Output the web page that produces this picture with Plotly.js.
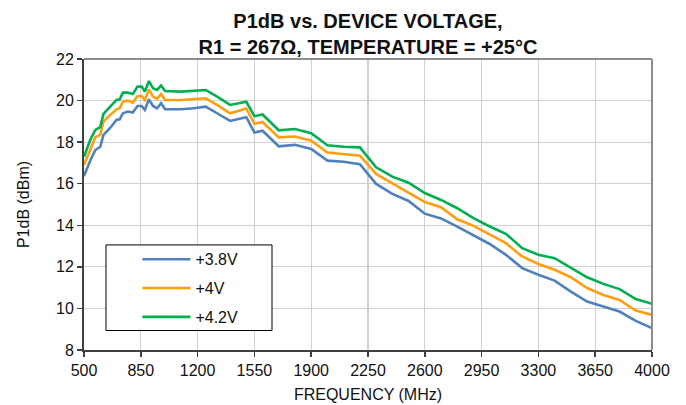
<!DOCTYPE html>
<html>
<head>
<meta charset="utf-8">
<script src="https://cdn.plot.ly/plotly-3.0.1.min.js"></script>
<style>html,body{margin:0;padding:0;background:#fff;}#chart{width:686px;height:405px;}</style>
</head>
<body>
<div id="chart"></div>
<script>
const freqMHz = [500, 540, 570, 600, 620, 660, 700, 720, 740, 770, 800, 830, 855, 875, 900, 925, 950, 975, 1000, 1100, 1175, 1250, 1320, 1400, 1500, 1550, 1600, 1700, 1800, 1900, 2000, 2100, 2200, 2300, 2400, 2500, 2600, 2700, 2800, 2900, 3000, 3100, 3200, 3300, 3400, 3500, 3600, 3700, 3800, 3900, 4000];
const p1dB_3v8 = [16.37, 17.14, 17.62, 17.78, 18.35, 18.67, 19.07, 19.10, 19.39, 19.47, 19.42, 19.74, 19.74, 19.55, 20.06, 19.74, 19.63, 19.87, 19.58, 19.58, 19.63, 19.71, 19.39, 19.02, 19.20, 18.46, 18.55, 17.80, 17.87, 17.67, 17.11, 17.06, 16.94, 15.99, 15.51, 15.17, 14.56, 14.33, 13.94, 13.54, 13.10, 12.58, 11.94, 11.62, 11.34, 10.81, 10.33, 10.09, 9.85, 9.40, 9.05];
const p1dB_4v0 = [16.90, 17.70, 18.24, 18.35, 18.99, 19.30, 19.58, 19.63, 19.95, 20.00, 19.90, 20.22, 20.22, 20.03, 20.54, 20.19, 20.08, 20.32, 20.03, 20.03, 20.06, 20.11, 19.79, 19.39, 19.62, 18.88, 18.97, 18.23, 18.27, 18.07, 17.50, 17.43, 17.35, 16.47, 16.02, 15.57, 15.12, 14.87, 14.29, 13.97, 13.54, 13.14, 12.50, 12.14, 11.86, 11.50, 10.98, 10.65, 10.41, 9.90, 9.69];
const p1dB_4v2 = [17.30, 18.14, 18.59, 18.72, 19.36, 19.71, 20.03, 20.06, 20.38, 20.38, 20.32, 20.67, 20.67, 20.43, 20.94, 20.59, 20.51, 20.72, 20.46, 20.43, 20.48, 20.51, 20.19, 19.79, 19.94, 19.25, 19.33, 18.57, 18.63, 18.43, 17.85, 17.78, 17.75, 16.79, 16.34, 16.05, 15.55, 15.22, 14.82, 14.34, 13.94, 13.59, 12.90, 12.58, 12.42, 11.94, 11.50, 11.18, 10.93, 10.45, 10.22];
const seriesNames = ['+3.8V', '+4V', '+4.2V'];
const xTicks = [500, 850, 1200, 1550, 1900, 2250, 2600, 2950, 3300, 3650, 4000];
const yTicks = [8, 10, 12, 14, 16, 18, 20, 22];

const colors = ['#4f81bd', '#ff9f10', '#00b050'];
const ys = [p1dB_3v8, p1dB_4v0, p1dB_4v2];
const traces = ys.map((y, i) => ({
  x: freqMHz, y: y, type: 'scatter', mode: 'lines', name: seriesNames[i],
  line: {color: colors[i], width: 2.6}, legendgroup: 'g' + i
}));

const font = 'Arial, "Liberation Sans", sans-serif';
const layout = {
  width: 686, height: 405,
  margin: {l: 84, r: 34, t: 59, b: 55},
  paper_bgcolor: '#fff', plot_bgcolor: '#fff',
  font: {family: font, color: '#111', size: 16},
  showlegend: true,
  title: {
    text: 'P1dB vs. DEVICE VOLTAGE,<br>R1 = 267Ω, TEMPERATURE = +25°C',
    font: {family: font, size: 20, color: '#111', weight: 'bold'},
    x: 0.5, xref: 'paper', xanchor: 'center', y: 0.93, yref: 'container', yanchor: 'top'
  },
  xaxis: {
    range: [500, 4000], tickvals: xTicks, ticktext: xTicks.map(String),
    showgrid: true, gridcolor: '#d0d0d0', gridwidth: 1.2,
    showline: true, linecolor: '#404040', linewidth: 2,
    ticks: 'outside', ticklen: 5, tickcolor: '#404040', tickwidth: 1.5,
    tickfont: {family: font, size: 16, color: '#111'},
    zeroline: false,
    title: {text: 'FREQUENCY (MHz)', font: {family: font, size: 16, color: '#111'}, standoff: 11}
  },
  yaxis: {
    range: [8, 22], tickvals: yTicks, ticktext: yTicks.map(String),
    showgrid: true, gridcolor: '#d0d0d0', gridwidth: 1.2,
    showline: true, linecolor: '#404040', linewidth: 2,
    ticks: 'outside', ticklen: 5, tickcolor: '#404040', tickwidth: 1.5,
    tickfont: {family: font, size: 16, color: '#111'},
    zeroline: false,
    title: {text: 'P1dB (dBm)', font: {family: font, size: 16, color: '#111'}, standoff: 22}
  },
  shapes: [
    {type: 'line', xref: 'paper', yref: 'paper', x0: 0, x1: 1, y0: 1, y1: 1, line: {color: '#8c8c8c', width: 2}},
    {type: 'line', xref: 'paper', yref: 'paper', x0: 1, x1: 1, y0: 0, y1: 1, line: {color: '#8c8c8c', width: 2}},
    {type: 'rect', xref: 'paper', yref: 'paper', x0: 0.0387, x1: 0.331, y0: 0.067, y1: 0.361,
     line: {color: '#000', width: 1}, fillcolor: '#fff', layer: 'above'}
  ],
  legend: {
    x: 0.094, y: 0.37, xanchor: 'left', yanchor: 'top',
    bgcolor: 'rgba(0,0,0,0)', borderwidth: 0,
    font: {family: font, size: 16, color: '#111'},
    tracegroupgap: 5, itemwidth: 48
  }
};
Plotly.newPlot('chart', traces, layout, {staticPlot: true, displayModeBar: false});
</script>
</body>
</html>
